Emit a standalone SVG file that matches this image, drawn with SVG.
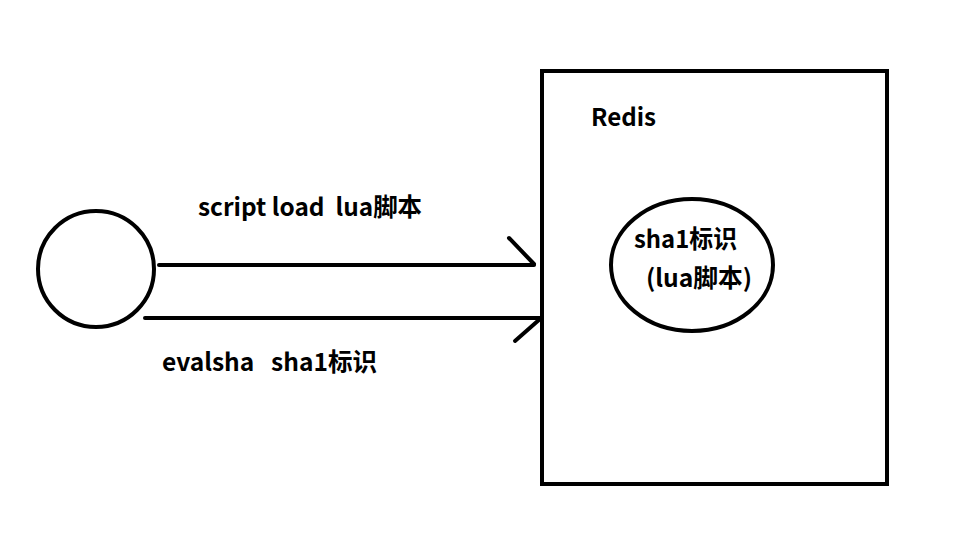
<svg xmlns="http://www.w3.org/2000/svg" width="956" height="540" viewBox="0 0 956 540">
<style>
.s{fill:none;stroke:#000;stroke-width:4;stroke-linecap:round}
.t{font-family:"Noto Sans CJK SC","Microsoft YaHei","Liberation Sans",sans-serif;font-weight:bold;font-size:24.5px;fill:#000;white-space:pre}
</style>
<rect width="956" height="540" fill="#fff"/>
<g id="client">
<circle class="s" cx="96" cy="269" r="58"/>
</g>
<g id="redis">
<rect class="s" x="542" y="71" width="345" height="413" stroke-linecap="butt"/>
<text class="t" x="591" y="126" textLength="65" lengthAdjust="spacingAndGlyphs">Redis</text>
</g>
<g id="sha1">
<ellipse class="s" cx="692" cy="265" rx="81" ry="66"/>
<text class="t" x="634" y="248" textLength="103" lengthAdjust="spacingAndGlyphs">sha1标识</text>
<text class="t" x="646" y="287" textLength="106" lengthAdjust="spacingAndGlyphs">(lua脚本)</text>
</g>
<g id="connectors">
<line class="s" x1="159" y1="265" x2="534" y2="265"/>
<line class="s" x1="509" y1="238" x2="534" y2="264"/>
<line class="s" x1="145" y1="318" x2="540" y2="318"/>
<line class="s" x1="540" y1="319" x2="515" y2="341"/>
<text class="t" x="198" y="216" textLength="224" lengthAdjust="spacingAndGlyphs">script load  lua脚本</text>
<text class="t" x="162" y="371" textLength="215" lengthAdjust="spacingAndGlyphs">evalsha   sha1标识</text>
</g>
</svg>
